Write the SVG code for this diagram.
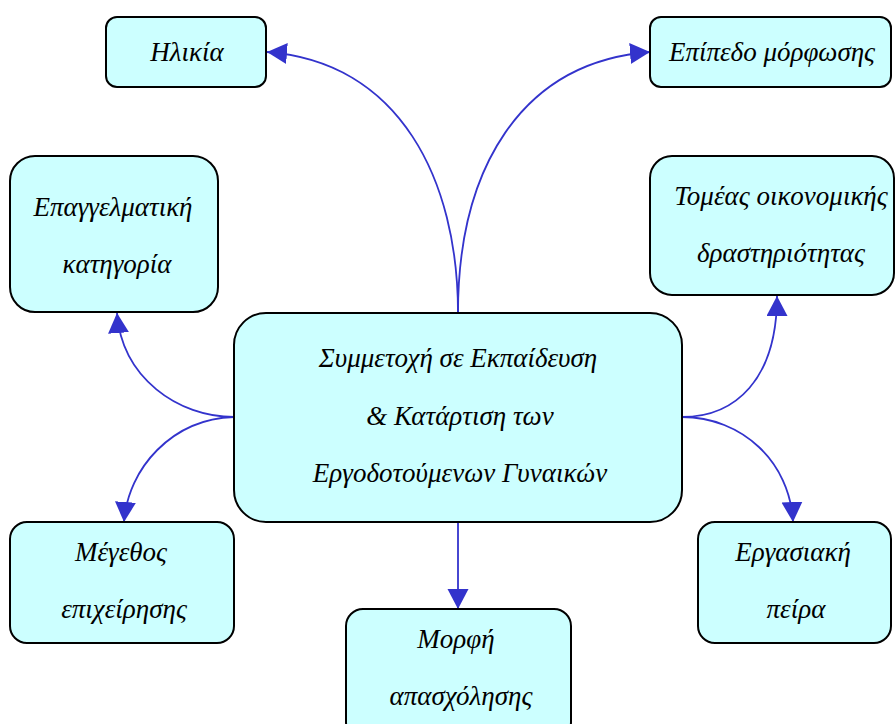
<svg xmlns="http://www.w3.org/2000/svg" width="895" height="724" viewBox="0 0 895 724">
<defs>
<style>
.box{fill:#ccffff;stroke:#000;stroke-width:2}
.t{font-family:"Liberation Serif","DejaVu Serif",serif;font-style:italic;font-size:27px;fill:#000;text-anchor:middle}
.c{fill:none;stroke:#3333cc;stroke-width:1.8}
</style>
<marker id="ah" markerUnits="userSpaceOnUse" markerWidth="22" markerHeight="22" refX="20" refY="10.5" orient="auto" viewBox="0 0 22 22">
<path d="M0,0 L20,10.5 L0,21 z" fill="#3333cc"/>
</marker>
</defs>
<rect width="895" height="724" fill="#fff"/>
<g id="connectors">
<path class="c" d="M458,313 C458,180 400,62 267,52" marker-end="url(#ah)"/>
<path class="c" d="M458,313 C458,170 520,62 650,52" marker-end="url(#ah)"/>
<path class="c" d="M682,417 C735,417 777,380 777,296" marker-end="url(#ah)"/>
<path class="c" d="M682,417 C742,417 790,462 793,522" marker-end="url(#ah)"/>
<path class="c" d="M234,417 C178,417 122,378 117,313" marker-end="url(#ah)"/>
<path class="c" d="M234,417 C172,419 128,468 124,522" marker-end="url(#ah)"/>
<path class="c" d="M458,522 L458,609" marker-end="url(#ah)"/>
</g>
<g id="n-center">
<rect class="box" x="234" y="313" width="448" height="209" rx="32"/>
<text class="t" x="458" y="367">Συμμετοχή σε Εκπαίδευση</text>
<text class="t" x="460" y="425">&amp; Κατάρτιση των</text>
<text class="t" x="460" y="482">Εργοδοτούμενων Γυναικών</text>
</g>
<g id="n-ilikia">
<rect class="box" x="106" y="17" width="160" height="70" rx="11"/>
<text class="t" x="187" y="61">Ηλικία</text>
</g>
<g id="n-epipedo">
<rect class="box" x="650" y="17" width="241" height="70" rx="11"/>
<text class="t" x="772" y="61">Επίπεδο μόρφωσης</text>
</g>
<g id="n-epaggelmatiki">
<rect class="box" x="10" y="156" width="208" height="156" rx="25"/>
<text class="t" x="113" y="216">Επαγγελματική</text>
<text class="t" x="117" y="273">κατηγορία</text>
</g>
<g id="n-tomeas">
<rect class="box" x="650" y="156" width="244" height="139" rx="22"/>
<text class="t" x="781" y="205">Τομέας οικονομικής</text>
<text class="t" x="781" y="262">δραστηριότητας</text>
</g>
<g id="n-megethos">
<rect class="box" x="10" y="522" width="224" height="121" rx="17"/>
<text class="t" x="121" y="561">Μέγεθος</text>
<text class="t" x="124" y="618">επιχείρησης</text>
</g>
<g id="n-morfi">
<rect class="box" x="346" y="609" width="225" height="130" rx="17"/>
<text class="t" x="456" y="648">Μορφή</text>
<text class="t" x="461" y="705">απασχόλησης</text>
</g>
<g id="n-ergasiaki">
<rect class="box" x="698" y="522" width="193" height="121" rx="17"/>
<text class="t" x="793" y="561">Εργασιακή</text>
<text class="t" x="796" y="618">πείρα</text>
</g>
</svg>
